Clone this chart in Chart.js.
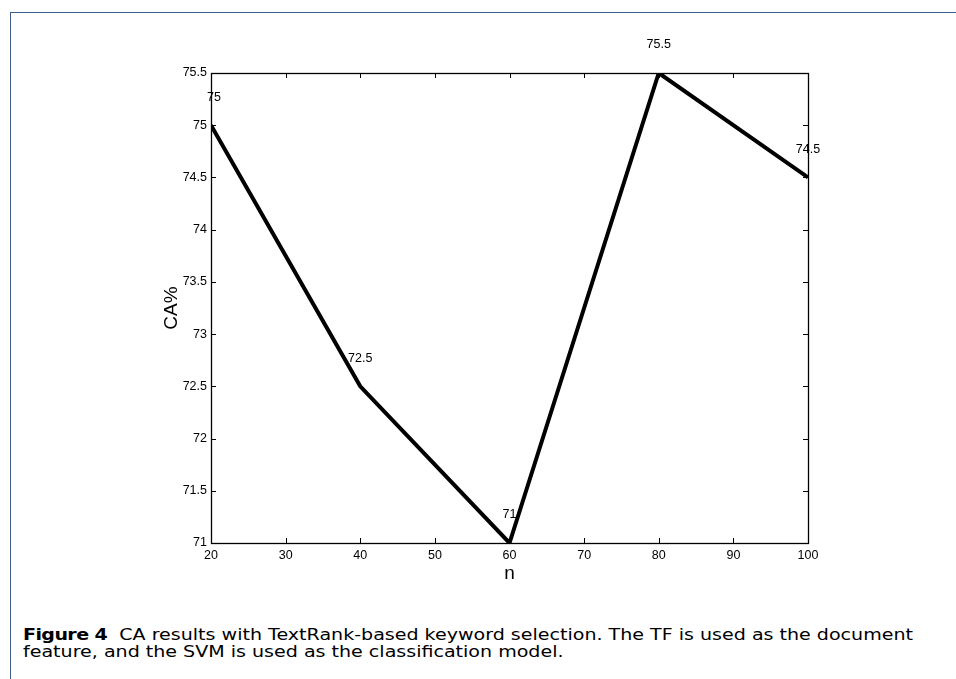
<!DOCTYPE html>
<html>
<head>
<meta charset="utf-8">
<script src="https://cdn.jsdelivr.net/npm/chart.js@4.4.1/dist/chart.umd.min.js"></script>
<style>
  html, body { margin: 0; padding: 0; background: #fff; }
  #wrap { position: relative; width: 956px; height: 679px; overflow: hidden; background: #fff; }
  #frame { position: absolute; left: 10px; top: 12px; right: -2px; bottom: -2px;
           border-top: 1px solid #3e5f8c; border-left: 1px solid #3e5f8c; }
  #chart { position: absolute; left: 0; top: 0; }
  #caption { position: absolute; left: 23px; top: 626px; font-family: "DejaVu Sans", sans-serif;
             font-size: 16px; line-height: 17px; color: #000; white-space: nowrap; transform-origin: 0 0; }
  #caption b { font-weight: bold; letter-spacing: -0.5px; }
</style>
</head>
<body>
<div id="wrap">
  <div id="frame"></div>
  <canvas id="chart" width="956" height="600"></canvas>
  <div id="caption"><span id="line1"><b>Figure 4</b>&nbsp; CA results with TextRank-based keyword selection. The TF is used as the document</span><br><span>feature, and the SVM is used as the classification model.</span></div>
</div>
<script>
// ---- data ----
const nValues = [20, 40, 60, 80, 100];
const caValues = [75, 72.5, 71, 75.5, 74.5];
const pointLabels = ["75", "72.5", "71", "75.5", "74.5"];
const xTicks = [20, 30, 40, 50, 60, 70, 80, 90, 100];
const yTicks = [71, 71.5, 72, 72.5, 73, 73.5, 74, 74.5, 75, 75.5];
const xTitle = "n";
const yTitle = "CA%";

const FONT = '"Liberation Sans", Arial, sans-serif';

const boxTicksPlugin = {
  id: 'boxTicks',
  afterDatasetsDraw(chart) {
    const {ctx, chartArea: a, scales: {x, y}} = chart;
    ctx.save();
    ctx.strokeStyle = '#000';
    ctx.lineWidth = 1;
    ctx.beginPath();
    const L = 5;
    xTicks.forEach(v => {
      const px = Math.round(x.getPixelForValue(v)) + 0.5;
      ctx.moveTo(px, a.bottom); ctx.lineTo(px, a.bottom - L);
      ctx.moveTo(px, a.top); ctx.lineTo(px, a.top + L);
    });
    yTicks.forEach(v => {
      const py = Math.round(y.getPixelForValue(v)) + 0.5;
      ctx.moveTo(a.left, py); ctx.lineTo(a.left + L, py);
      ctx.moveTo(a.right, py); ctx.lineTo(a.right - L, py);
    });
    ctx.stroke();
    ctx.lineWidth = 1.3;
    ctx.strokeRect(Math.round(a.left) + 0.5, Math.round(a.top) + 0.5,
                   Math.round(a.right - a.left), Math.round(a.bottom - a.top));
    // point labels
    ctx.fillStyle = '#000';
    ctx.font = '12.5px ' + FONT;
    ctx.textAlign = 'center';
    ctx.textBaseline = 'middle';
    const meta = chart.getDatasetMeta(0);
    meta.data.forEach((pt, i) => {
      ctx.fillText(pointLabels[i], pt.x + (i === 0 ? 3 : 0), pt.y - 28);
    });
    ctx.restore();
  }
};

new Chart(document.getElementById('chart'), {
  type: 'line',
  data: {
    datasets: [{
      data: nValues.map((n, i) => ({x: n, y: caValues[i]})),
      borderColor: '#000',
      borderWidth: 4,
      pointRadius: 0,
      tension: 0,
      fill: false
    }]
  },
  options: {
    responsive: false,
    animation: false,
    events: [],
    layout: { padding: { left: 150, top: 73, right: 148, bottom: 0 } },
    plugins: { legend: { display: false }, tooltip: { enabled: false } },
    scales: {
      x: {
        type: 'linear', min: 20, max: 100,
        afterBuildTicks: s => { s.ticks = xTicks.map(v => ({value: v})); },
        afterFit: s => { s.height = 57; },
        grid: { display: false, drawTicks: false },
        border: { display: false },
        ticks: { color: '#000', padding: 5, maxRotation: 0, autoSkip: false,
                 font: { family: FONT, size: 12.5 } },
        title: { display: true, text: xTitle, color: '#000', padding: { top: 0, bottom: 15 },
                 font: { family: FONT, size: 19 } }
      },
      y: {
        type: 'linear', min: 71, max: 75.5,
        afterBuildTicks: s => { s.ticks = yTicks.map(v => ({value: v})); },
        afterFit: s => { s.width = 61; },
        grid: { display: false, drawTicks: false },
        border: { display: false },
        ticks: { color: '#000', padding: 4, autoSkip: false,
                 font: { family: FONT, size: 12.5 },
                 callback: v => String(v) },
        title: { display: true, text: yTitle, color: '#000', padding: { top: 10, bottom: 0 },
                 font: { family: FONT, size: 19 } }
      }
    }
  },
  plugins: [boxTicksPlugin]
});

// fit caption width to the reference line length
const l1 = document.getElementById('line1');
const w = l1.getBoundingClientRect().width;
document.getElementById('caption').style.transform = 'scaleX(' + (890 / w) + ')';
</script>
</body>
</html>
